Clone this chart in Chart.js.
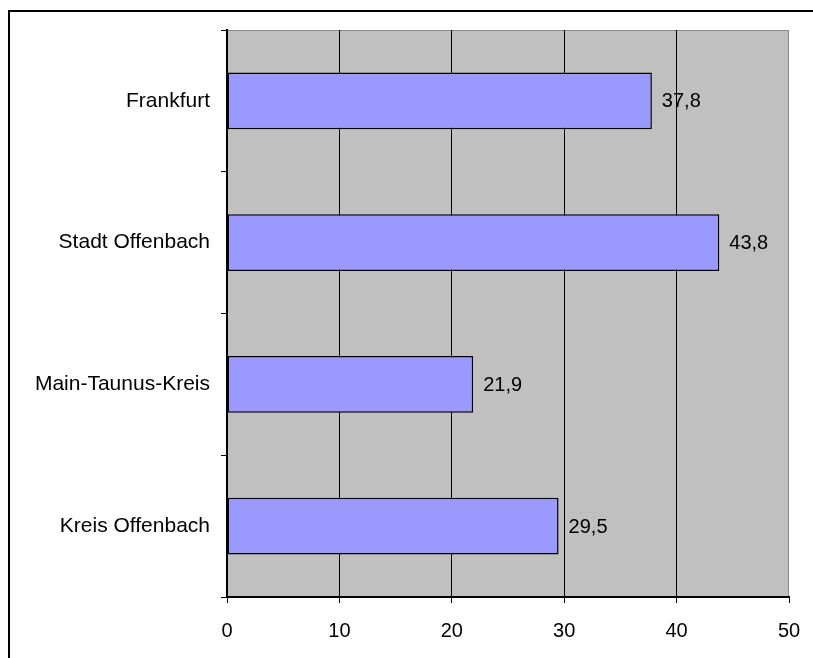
<!DOCTYPE html>
<html>
<head>
<meta charset="utf-8">
<script src="https://cdn.jsdelivr.net/npm/chart.js@4"></script>
<style>
  html, body { margin: 0; padding: 0; background: #ffffff; }
  #wrap { position: relative; width: 813px; height: 658px; overflow: hidden; }
  canvas { position: absolute; left: 0; top: 0; }
</style>
</head>
<body>
<div id="wrap"><canvas id="chart" width="813" height="658"></canvas></div>
<script>
// Regions and their values (per cent)
const regions = ['Frankfurt', 'Stadt Offenbach', 'Main-Taunus-Kreis', 'Kreis Offenbach'];
const values = [37.8, 43.8, 21.9, 29.5];
const axisTicks = [0, 10, 20, 30, 40, 50];

const FONT = { family: '"Liberation Sans", Arial, sans-serif', size: 21 };

// Grey plot background, plot-area edge and the frame round the whole chart
const backdrop = {
  id: 'backdrop',
  beforeDraw(chart) {
    const { ctx, chartArea: a } = chart;
    ctx.save();
    ctx.fillStyle = '#ffffff';
    ctx.fillRect(0, 0, chart.width, chart.height);
    ctx.fillStyle = '#000000';
    ctx.fillRect(8, 10, chart.width, 2);
    ctx.fillRect(8, 10, 2, chart.height);
    ctx.fillStyle = '#c0c0c0';
    ctx.fillRect(a.left, a.top, a.right - a.left, a.bottom - a.top);
    ctx.strokeStyle = '#8c8c8c';
    ctx.lineWidth = 1;
    ctx.strokeRect(a.left + 0.5, a.top + 0.5, a.right - a.left - 1, a.bottom - a.top);
    ctx.restore();
  }
};

// Value labels to the right of each bar, with a decimal comma
const valueLabels = {
  id: 'valueLabels',
  afterDatasetsDraw(chart) {
    const { ctx } = chart;
    const meta = chart.getDatasetMeta(0);
    ctx.save();
    ctx.font = `${FONT.size - 1}px ${FONT.family}`;
    ctx.fillStyle = '#000000';
    ctx.textAlign = 'left';
    ctx.textBaseline = 'middle';
    meta.data.forEach((bar, i) => {
      const txt = values[i].toFixed(1).replace('.', ',');
      ctx.fillText(txt, bar.x + 10, bar.y + 1);
    });
    ctx.restore();
  }
};

new Chart(document.getElementById('chart'), {
  type: 'bar',
  data: {
    labels: regions,
    datasets: [{
      data: values,
      backgroundColor: '#9999ff',
      borderColor: '#000000',
      borderWidth: 1.5,
      borderSkipped: false,
      barPercentage: 0.4,
      categoryPercentage: 1.0
    }]
  },
  options: {
    indexAxis: 'y',
    responsive: false,
    animation: false,
    devicePixelRatio: 1,
    layout: { padding: { top: 30, right: 24, left: 0, bottom: 0 } },
    plugins: {
      legend: { display: false },
      tooltip: { enabled: false }
    },
    scales: {
      x: {
        type: 'linear',
        min: 0,
        max: 50,
        afterBuildTicks(scale) { scale.ticks = axisTicks.map(v => ({ value: v })); },
        afterFit(scale) {
          scale.height = 61;
          scale.paddingLeft = 0;
          scale.paddingRight = 0;
        },
        ticks: { font: { family: FONT.family, size: 20 }, color: '#000000', padding: 16, maxRotation: 0 },
        grid: {
          color: ctx => (ctx.tick && ctx.tick.value > 0 && ctx.tick.value < 50) ? '#000000' : 'rgba(0,0,0,0)',
          lineWidth: 1,
          tickColor: '#000000',
          tickLength: 6,
          tickWidth: 1
        },
        border: { display: true, color: '#000000', width: 2 }
      },
      y: {
        type: 'category',
        afterFit(scale) {
          scale.width = 227;
          scale.paddingTop = 0;
          scale.paddingBottom = 0;
        },
        ticks: { font: FONT, color: '#000000', padding: 11 },
        grid: {
          offset: true,
          drawOnChartArea: false,
          tickColor: '#000000',
          tickLength: 6,
          tickWidth: 1
        },
        border: { display: true, color: '#000000', width: 2 }
      }
    }
  },
  plugins: [backdrop, valueLabels]
});
</script>
</body>
</html>
